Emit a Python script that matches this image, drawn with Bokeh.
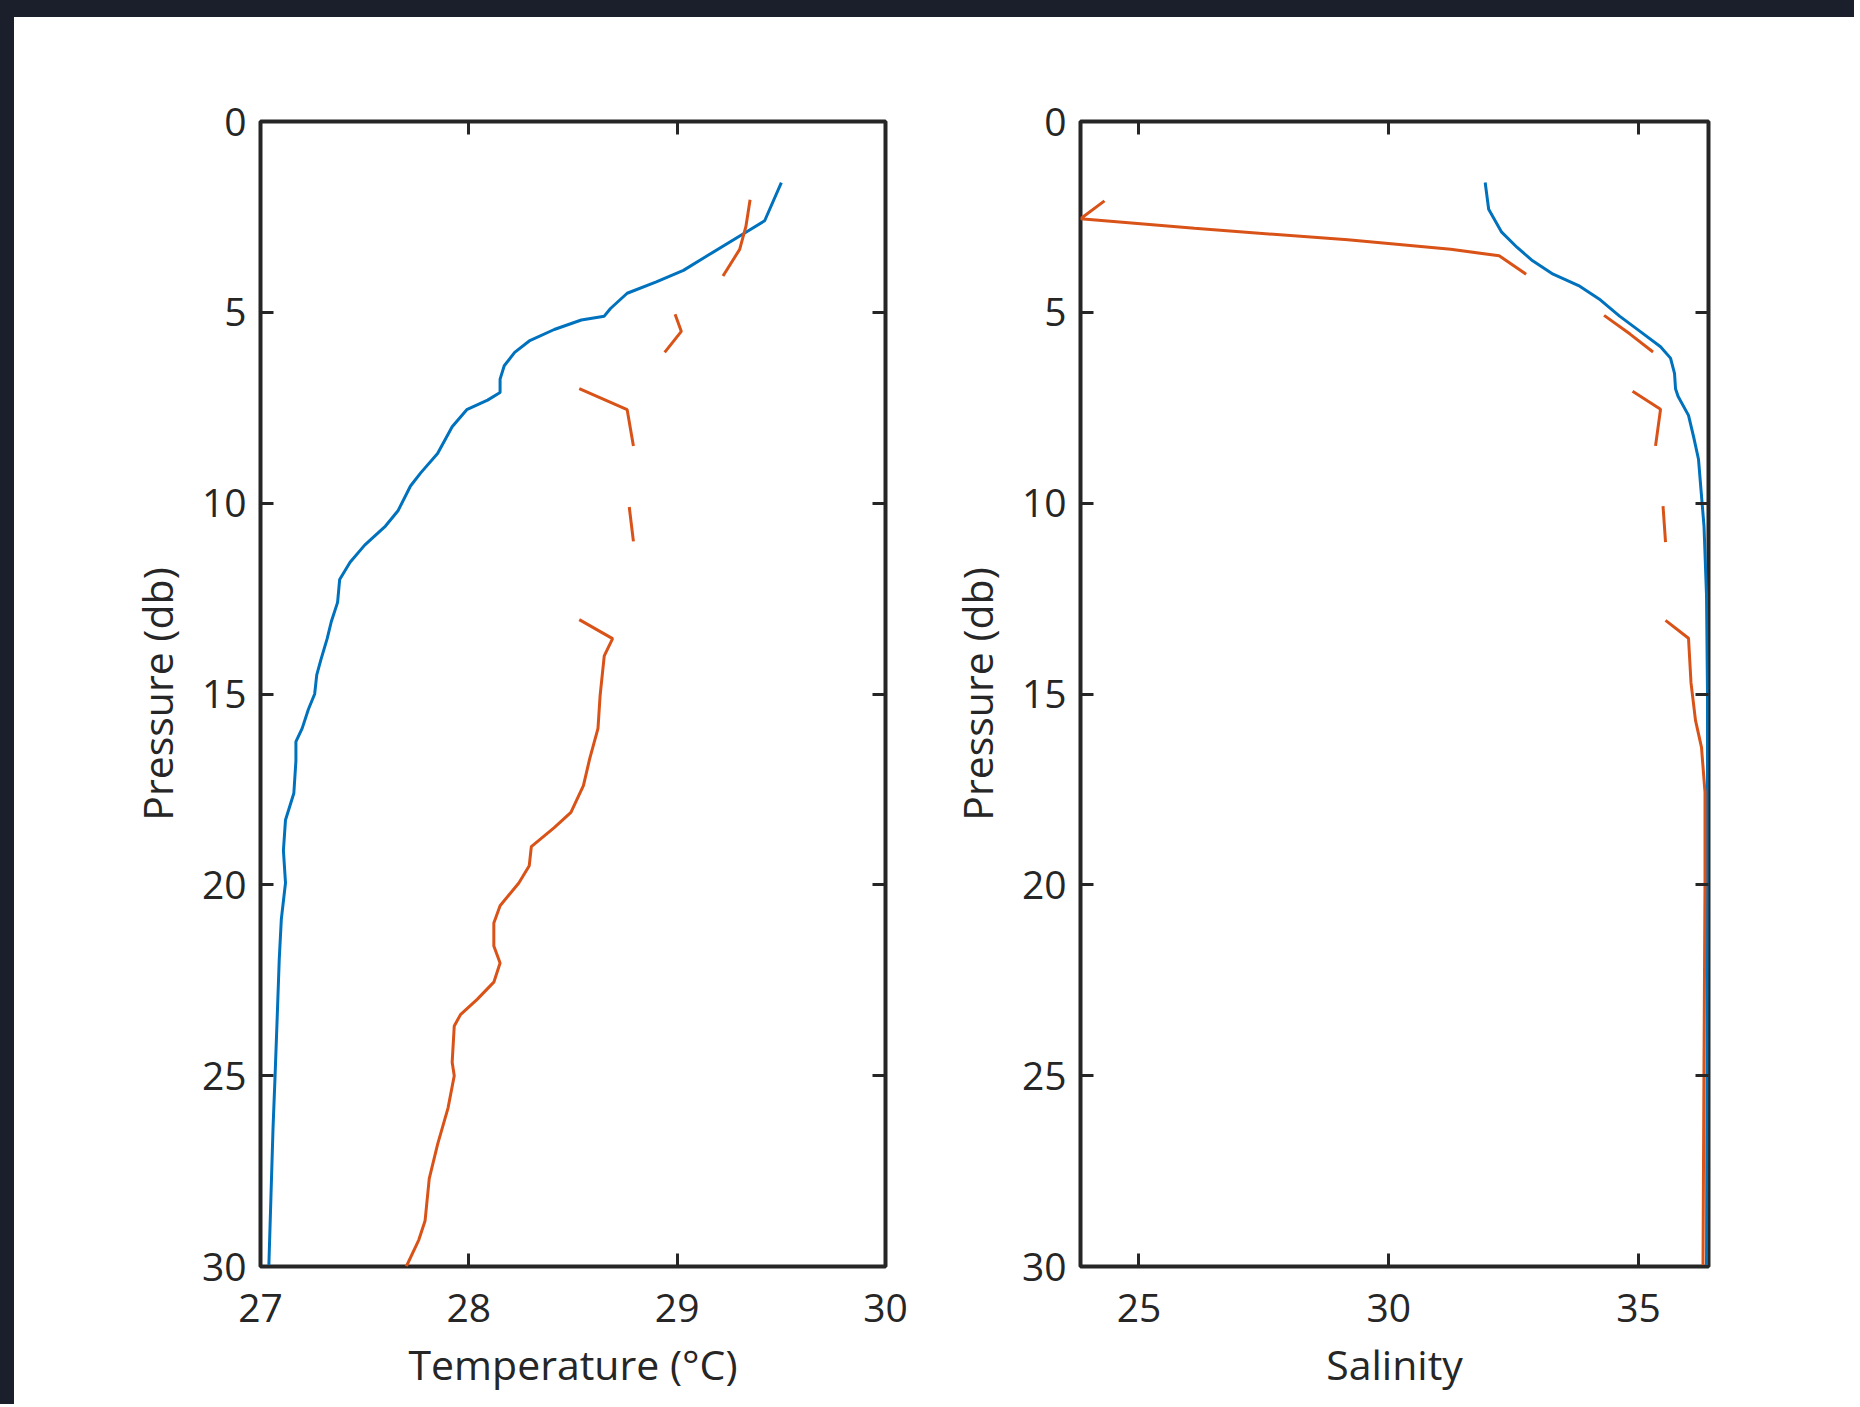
import numpy as np
from bokeh.plotting import figure
from bokeh.models import Range1d, LinearAxis, FixedTicker, CustomJSTickFormatter, Div
from bokeh.layouts import row, column
from bokeh.embed import file_html
from bokeh.resources import INLINE

nan = np.nan

# ---- Temperature profiles (pressure in db, temperature in degC) ----
temp_a_p = [1.6, 2.6, 2.9, 3.5, 3.9, 4.2, 4.5, 4.9, 5.1, 5.2, 5.45, 5.75, 6.05, 6.4, 6.75,
            7.1, 7.3, 7.55, 8.0, 8.7, 9.2, 9.55, 10.2, 10.6, 11.1, 11.55, 12.0, 12.6, 13.1,
            13.55, 14.1, 14.5, 15.0, 15.4, 15.9, 16.25, 16.75, 17.6, 18.3, 19.1, 19.95,
            20.9, 21.95, 23.5, 25.0, 26.4, 28.2, 30.0]
temp_a = [29.50, 29.42, 29.33, 29.15, 29.03, 28.90, 28.76, 28.68, 28.65, 28.54, 28.41,
          28.29, 28.22, 28.17, 28.15, 28.15, 28.09, 27.99, 27.92, 27.85, 27.77, 27.72,
          27.66, 27.60, 27.50, 27.43, 27.38, 27.37, 27.34, 27.32, 27.29, 27.27, 27.26,
          27.23, 27.20, 27.17, 27.17, 27.16, 27.12, 27.11, 27.12, 27.10, 27.09, 27.08,
          27.07, 27.06, 27.05, 27.04]

temp_b_p = [2.05, 2.75, 3.35, 4.05, nan,
            5.05, 5.5, 6.05, nan,
            7.0, 7.55, 8.5, nan,
            10.1, 11.0, nan,
            13.05, 13.55, 14.0, 15.05, 15.9, 16.7, 17.4, 18.1, 18.5, 19.0, 19.5, 19.95,
            20.55, 21.0, 21.6, 22.05, 22.55, 23.0, 23.4, 23.7, 24.65, 25.0, 25.85, 26.8,
            27.7, 28.8, 29.3, 30.0]
temp_b = [29.35, 29.33, 29.30, 29.22, nan,
          28.99, 29.02, 28.94, nan,
          28.53, 28.76, 28.79, nan,
          28.77, 28.79, nan,
          28.53, 28.69, 28.65, 28.63, 28.62, 28.58, 28.55, 28.49, 28.41, 28.30, 28.29,
          28.24, 28.15, 28.12, 28.12, 28.15, 28.12, 28.04, 27.96, 27.93, 27.92, 27.93,
          27.90, 27.85, 27.81, 27.79, 27.76, 27.70]

# ---- Salinity profiles ----
sal_a_p = [1.6, 2.3, 2.9, 3.3, 3.65, 4.0, 4.3, 4.65, 5.1, 5.5, 5.9, 6.2, 6.6, 7.0, 7.2,
           7.7, 8.25, 8.85, 9.65, 10.6, 12.4, 15.0, 18.3, 22.0, 26.0, 30.0]
sal_a = [31.93, 32.00, 32.26, 32.57, 32.88, 33.29, 33.80, 34.21, 34.62, 35.03, 35.44,
         35.64, 35.72, 35.74, 35.79, 36.00, 36.10, 36.20, 36.25, 36.31, 36.36, 36.38,
         36.38, 36.38, 36.37, 36.36]

sal_b_p = [2.08, 2.55, 2.8, 3.1, 3.35, 3.52, 4.0, nan,
           5.08, 5.57, 6.04, nan,
           7.07, 7.54, 8.5, nan,
           10.08, 11.02, nan,
           13.07, 13.54, 14.71, 15.69, 16.4, 17.58, 19.94, 24.66, 30.0]
sal_b = [24.31, 23.83, 26.11, 29.18, 31.24, 32.21, 32.75, nan,
         34.31, 34.83, 35.29, nan,
         34.88, 35.44, 35.34, nan,
         35.49, 35.54, nan,
         35.54, 36.00, 36.05, 36.14, 36.26, 36.33, 36.33, 36.31, 36.29]

pressure_ticks = [0, 5, 10, 15, 20, 25, 30]
temp_ticks = [27, 28, 29, 30]
sal_ticks = [25, 30, 35]
temp_range = (27, 30)
sal_range = (23.83, 36.40)
pressure_range = (30, 0)

BLUE = "#0072BD"
ORANGE = "#D95319"
INK = "#262626"
FONT = "Open Sans"


def style_axis(ax, ticks, labels=True, label=None, standoff=14, label_standoff=8):
    ax.ticker = FixedTicker(ticks=ticks)
    ax.axis_line_color = None
    ax.major_tick_in = 13
    ax.major_tick_out = 0
    ax.major_tick_line_width = 3
    ax.major_tick_line_color = INK
    ax.minor_tick_line_color = None
    ax.major_label_text_font = FONT
    ax.major_label_text_font_size = "39px"
    ax.major_label_text_color = INK
    ax.major_label_standoff = standoff
    if not labels:
        ax.formatter = CustomJSTickFormatter(code="return ''")
    if label is not None:
        ax.axis_label = label
        ax.axis_label_text_font = FONT
        ax.axis_label_text_font_size = "41px"
        ax.axis_label_text_font_style = "normal"
        ax.axis_label_text_color = INK
        ax.axis_label_standoff = label_standoff


FRAME_H = 1145


def make_fig(xr, xticks, xlabel, frame_w, mleft, mright, mbottom):
    p = figure(width=mleft + frame_w + mright, height=104 + FRAME_H + mbottom,
               frame_width=frame_w, frame_height=FRAME_H,
               x_range=Range1d(*xr), y_range=Range1d(*pressure_range),
               x_axis_type=None, y_axis_type=None, output_backend="svg", toolbar_location=None,
               min_border_left=mleft, min_border_right=mright, min_border_top=104,
               min_border_bottom=mbottom)
    p.background_fill_color = "white"
    p.border_fill_color = "white"
    p.outline_line_color = INK
    p.outline_line_width = 4
    p.outline_line_alpha = 1.0

    bottom = LinearAxis()
    style_axis(bottom, xticks, True, xlabel, standoff=27, label_standoff=11)
    p.add_layout(bottom, "below")
    top = LinearAxis()
    style_axis(top, xticks, False, standoff=0)
    p.add_layout(top, "above")
    left = LinearAxis()
    style_axis(left, pressure_ticks, True, "Pressure (db)", standoff=14, label_standoff=14)
    p.add_layout(left, "left")
    right = LinearAxis()
    style_axis(right, pressure_ticks, False, standoff=0)
    p.add_layout(right, "right")
    return p


f1 = make_fig(temp_range, temp_ticks, "Temperature (°C)", 625, 246, 60, 138)
f1.line(temp_a, temp_a_p, line_color=BLUE, line_width=3)
f1.line(temp_b, temp_b_p, line_color=ORANGE, line_width=3)

f2 = make_fig(sal_range, sal_ticks, "Salinity", 628, 135, 146, 138)
f2.line(sal_a, sal_a_p, line_color=BLUE, line_width=3)
f2.line(sal_b, sal_b_p, line_color=ORANGE, line_width=3)

DARK = "#1b1f2c"
top_band = Div(text="", width=1854, height=17, margin=0, styles={"background-color": DARK})
left_band = Div(text="", width=14, height=104 + FRAME_H + 138, margin=0,
                styles={"background-color": DARK})

layout = column(top_band, row(left_band, f1, f2, spacing=0), spacing=0)

open("out.html", "w").write(file_html(layout, INLINE))
